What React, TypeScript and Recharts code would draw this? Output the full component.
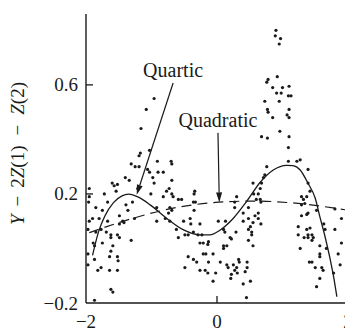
import { ComposedChart, Scatter, XAxis, YAxis, ReferenceLine, Label } from 'recharts';

const INK = '#1a1a1a';
const FONT = '"Liberation Serif", "Times New Roman", serif';

// residual points (x, y)
const residuals: [number, number][] = [
  [-0.96, 0.55], [-1.08, 0.51], [-1.16, 0.44], [-1.03, 0.36], [-1.17, 0.35], [-1.19, 0.34],
  [-0.91, 0.32], [-1.31, 0.31], [-1.25, 0.3], [-1.19, 0.3], [-1.06, 0.29], [-1.03, 0.28],
  [-0.9, 0.28], [-1.4, 0.26], [-1.34, 0.25], [-0.98, 0.26], [-0.96, 0.24], [-1.6, 0.24],
  [-1.52, 0.235], [-1.57, 0.23], [-1.54, 0.21], [-1.21, 0.22], [-1.01, 0.2], [-1.95, 0.22],
  [-1.72, 0.2], [-1.95, 0.19],
  [-1.96, 0.17], [-1.85, 0.15], [-1.75, 0.14], [-1.67, 0.17], [-1.39, 0.16], [-1.36, 0.14],
  [-1.29, 0.17], [-1.95, 0.1], [-1.9, 0.11], [-1.8, 0.11], [-1.67, 0.1], [-1.49, 0.12],
  [-1.44, 0.1], [-1.42, 0.095], [-1.26, 0.11], [-1.49, 0.09], [-1.97, 0.07], [-1.77, 0.07],
  [-1.85, 0.06], [-1.69, 0.06], [-1.62, 0.05], [-1.52, 0.05], [-1.49, 0.04], [-1.89, 0.02],
  [-1.87, 0.01], [-1.75, 0.02], [-1.62, 0.04], [-1.59, 0.01], [-1.62, -0.01], [-1.31, 0.03],
  [-1.97, -0.02], [-1.87, -0.04], [-1.64, -0.03], [-1.52, -0.03], [-1.51, -0.045], [-1.97, -0.06],
  [-1.77, -0.07], [-1.82, -0.08], [-1.64, -0.08], [-1.52, -0.08], [-1.62, -0.15], [-1.59, -0.16],
  [-1.87, -0.19],
  [-0.7, 0.32], [-0.69, 0.31], [-0.82, 0.28], [-0.69, 0.25], [-0.73, 0.22], [-0.77, 0.21],
  [-0.69, 0.2], [-0.67, 0.19], [-0.82, 0.19], [-0.59, 0.18], [-0.54, 0.18], [-0.34, 0.21],
  [-0.35, 0.2], [-0.36, 0.17], [-0.33, 0.17], [-0.92, 0.15], [-0.72, 0.15], [-0.69, 0.14],
  [-0.74, 0.13], [-0.35, 0.14], [-0.79, 0.11], [-0.72, 0.1], [-0.51, 0.1], [-0.41, 0.11],
  [-0.4, 0.09], [-0.26, 0.09], [0.02, 0.1], [0.13, 0.1], [0.27, 0.17],
  [-0.92, 0.1], [-0.62, 0.07], [-0.59, 0.04], [-0.49, 0.05], [-0.44, 0.05], [-0.36, 0.06],
  [-0.29, 0.05], [-0.23, 0.05], [0.1, 0.07], [0.12, 0.06], [-0.26, 0.02], [-0.21, 0.02],
  [-0.13, 0.025], [-0.14, 0.015], [0.1, 0.01], [0.15, 0.01], [0.1, 0.0], [-0.21, -0.02],
  [-0.17, -0.02], [-0.06, -0.02], [-0.44, -0.03], [-0.36, -0.04], [-0.31, -0.05], [-0.13, -0.05],
  [0.05, -0.05], [0.15, -0.06], [0.17, -0.07], [-0.49, -0.07], [-0.26, -0.08], [-0.18, -0.08],
  [-0.14, -0.09], [-0.02, -0.09], [-0.06, -0.12],
  [0.9, 0.8], [0.89, 0.78], [0.97, 0.77], [0.95, 0.75], [0.78, 0.62], [0.76, 0.61],
  [0.92, 0.63], [0.85, 0.59], [1.0, 0.59], [1.1, 0.595], [0.91, 0.57], [0.98, 0.57],
  [1.09, 0.56], [1.13, 0.56], [0.73, 0.54], [0.95, 0.54], [0.77, 0.51], [0.78, 0.5],
  [1.1, 0.51], [0.85, 0.48], [1.07, 0.49], [1.1, 0.48], [0.96, 0.43], [0.68, 0.41],
  [0.77, 0.405], [1.1, 0.41],
  [1.09, 0.37], [0.76, 0.3], [1.09, 0.32], [1.22, 0.32], [1.27, 0.325], [1.39, 0.29],
  [0.73, 0.27], [0.71, 0.26], [0.55, 0.24], [0.68, 0.24], [0.66, 0.22], [0.63, 0.2],
  [0.56, 0.2], [0.6, 0.18], [0.3, 0.19], [0.66, 0.18], [0.67, 0.17], [0.48, 0.15],
  [0.27, 0.15], [0.4, 0.13], [0.63, 0.13], [0.58, 0.12], [0.63, 0.11], [1.39, 0.24],
  [1.29, 0.19], [1.32, 0.18], [1.34, 0.165], [1.29, 0.16], [1.39, 0.13], [1.37, 0.125],
  [1.29, 0.12],
  [0.4, 0.1], [0.48, 0.11], [0.55, 0.095], [0.29, 0.06], [0.48, 0.07], [0.51, 0.08],
  [0.53, 0.06], [0.67, 0.09], [0.2, 0.04], [0.22, 0.035], [0.48, 0.03], [0.53, 0.05],
  [0.55, 0.01], [0.33, -0.04], [0.34, -0.05], [0.46, -0.05], [0.25, -0.06], [0.3, -0.07],
  [0.27, -0.08], [0.46, -0.07], [0.31, -0.09], [0.22, -0.095], [0.21, -0.11], [0.43, -0.085],
  [0.4, -0.13], [0.51, -0.12], [0.45, -0.18], [1.24, 0.08], [1.37, 0.07], [1.42, 0.075],
  [1.24, 0.05], [1.33, 0.04], [1.39, 0.05], [1.27, 0.0], [1.41, -0.05],
  [1.42, 0.21], [1.37, 0.19], [1.52, 0.14], [1.8, 0.145], [1.9, 0.11], [1.63, 0.09],
  [1.65, 0.07], [1.8, 0.07], [1.39, 0.04], [1.45, 0.05], [1.47, 0.04], [1.45, 0.03],
  [1.57, 0.01], [1.67, 0.0], [1.57, -0.02], [1.9, 0.02], [1.85, -0.02], [1.57, -0.03],
  [1.45, -0.05], [1.5, -0.07], [1.6, -0.07], [1.62, -0.08], [1.88, -0.06], [1.78, -0.09],
  [1.57, -0.11], [1.52, -0.14],
];

// fitted curves
const quarticX = [-1.9, -1.81, -1.71, -1.58, -1.45, -1.35, -1.2, -1.02, -0.77, -0.51, -0.26, -0.11, 0.05, 0.25, 0.46, 0.66, 0.86, 1.06, 1.16, 1.27, 1.39, 1.5, 1.57, 1.65, 1.73, 1.78, 1.83];
const quarticY = [-0.025, 0.06, 0.12, 0.168, 0.193, 0.199, 0.188, 0.16, 0.111, 0.068, 0.05, 0.05, 0.068, 0.111, 0.175, 0.243, 0.288, 0.305, 0.304, 0.288, 0.239, 0.184, 0.117, 0.043, -0.042, -0.103, -0.177];
const quadraticX = [-1.95, -1.28, -0.67, -0.06, 0.55, 1.16, 1.98];
const quadraticY = [0.058, 0.111, 0.148, 0.168, 0.174, 0.167, 0.141];

const xTicks = [-2, 0, 2];
const yTicks = [-0.2, 0.2, 0.6];

const notes = [
  { text: 'Quartic', from: [-0.67, 0.607], to: [-1.226, 0.197] },
  { text: 'Quadratic', from: [0.015, 0.424], to: [0.035, 0.169] },
];

const dots = residuals.map(([x, y]) => ({ x, y }));
const quartic = quarticX.map((x, i) => ({ x, y: quarticY[i] }));
const quadratic = quadraticX.map((x, i) => ({ x, y: quadraticY[i] }));

const fmt = (v: number) => (v < 0 ? `\u2212${Math.abs(v)}` : `${v}`);

function YTick(p: any) {
  const { x, y, payload } = p;
  const ax = x + 8;
  return (
    <g>
      {payload.value > yTicks[0] && (
        <line x1={ax} x2={ax + 7} y1={y} y2={y} stroke={INK} strokeWidth={1.3} />
      )}
      <text x={x} y={y + 6.5} textAnchor="end" fontSize={19} fontFamily={FONT} fill={INK}>
        {fmt(payload.value)}
      </text>
    </g>
  );
}

function XTick(p: any) {
  const { x, y, payload } = p;
  const ay = y - 8;
  return (
    <g>
      {payload.value > xTicks[0] && (
        <line x1={x} x2={x} y1={ay} y2={ay - 7} stroke={INK} strokeWidth={1.3} />
      )}
      <text x={x} y={ay + 25} textAnchor="middle" fontSize={19} fontFamily={FONT} fill={INK}>
        {fmt(payload.value)}
      </text>
    </g>
  );
}

function YTitle(p: any) {
  const vb = p.viewBox || { y: 14, height: 289 };
  const cx = 23.5;
  const cy = vb.y + vb.height / 2 - 5;
  return (
    <text
      x={cx}
      y={cy}
      transform={`rotate(-90 ${cx} ${cy})`}
      textAnchor="middle"
      fontSize={19}
      fontFamily={FONT}
      fill={INK}
    >
      <tspan fontStyle="italic">Y</tspan>
      <tspan dx={8}>{'\u2212'}</tspan>
      <tspan dx={8}>2</tspan>
      <tspan fontStyle="italic">Z</tspan>
      <tspan>(1)</tspan>
      <tspan dx={10}>{'\u2212'}</tspan>
      <tspan dx={10} fontStyle="italic">Z</tspan>
      <tspan>(2)</tspan>
    </text>
  );
}

function Arrow(p: any) {
  const { x1, y1, x2, y2, text } = p;
  const a = Math.atan2(y2 - y1, x2 - x1);
  const len = 10;
  const half = 3;
  const bx = x2 - len * Math.cos(a);
  const by = y2 - len * Math.sin(a);
  const pts = `${x2},${y2} ${bx + half * Math.sin(a)},${by - half * Math.cos(a)} ${bx - half * Math.sin(a)},${by + half * Math.cos(a)}`;
  return (
    <g>
      <line x1={x1} y1={y1} x2={bx} y2={by} stroke={INK} strokeWidth={1.2} />
      <polygon points={pts} fill={INK} />
      <text x={x1} y={y1 - 6} textAnchor="middle" fontSize={20} fontFamily={FONT} fill={INK}>
        {text}
      </text>
    </g>
  );
}

const Dot = (p: any) => <circle cx={p.cx} cy={p.cy} r={1.6} fill={INK} />;
const NoDot = () => <g />;

export default function App() {
  return (
    <div
      style={{
        position: 'fixed',
        left: 0,
        top: 0,
        width: 345,
        height: 335,
        overflow: 'hidden',
        background: '#fff',
      }}
    >
      <ComposedChart width={352} height={335} margin={{ top: 14, right: 4, bottom: 0, left: 0 }}>
        <XAxis
          type="number"
          dataKey="x"
          domain={[-2, 2]}
          ticks={xTicks}
          interval={0}
          allowDataOverflow
          height={32}
          tickSize={0}
          tickMargin={8}
          tick={<XTick />}
          axisLine={{ stroke: INK, strokeWidth: 1.4 }}
          tickLine={false}
        />
        <YAxis
          type="number"
          dataKey="y"
          domain={[-0.2, 0.86]}
          ticks={yTicks}
          interval={0}
          allowDataOverflow
          width={86}
          tickSize={0}
          tickMargin={8}
          tick={<YTick />}
          axisLine={{ stroke: INK, strokeWidth: 1.4 }}
          tickLine={false}
        >
          <Label content={(p: any) => <YTitle {...p} />} />
        </YAxis>
        <Scatter data={dots} shape={<Dot />} isAnimationActive={false} />
        <Scatter
          data={quadratic}
          shape={<NoDot />}
          line={{ stroke: INK, strokeWidth: 1.2, strokeDasharray: '10 6' }}
          lineJointType="monotoneX"
          isAnimationActive={false}
        />
        <Scatter
          data={quartic}
          shape={<NoDot />}
          line={{ stroke: INK, strokeWidth: 1.3 }}
          lineJointType="monotoneX"
          isAnimationActive={false}
        />
        {notes.map((n) => (
          <ReferenceLine
            key={n.text}
            segment={[
              { x: n.from[0], y: n.from[1] },
              { x: n.to[0], y: n.to[1] },
            ]}
            ifOverflow="visible"
            shape={(p: any) => <Arrow {...p} text={n.text} />}
          />
        ))}
      </ComposedChart>
    </div>
  );
}
